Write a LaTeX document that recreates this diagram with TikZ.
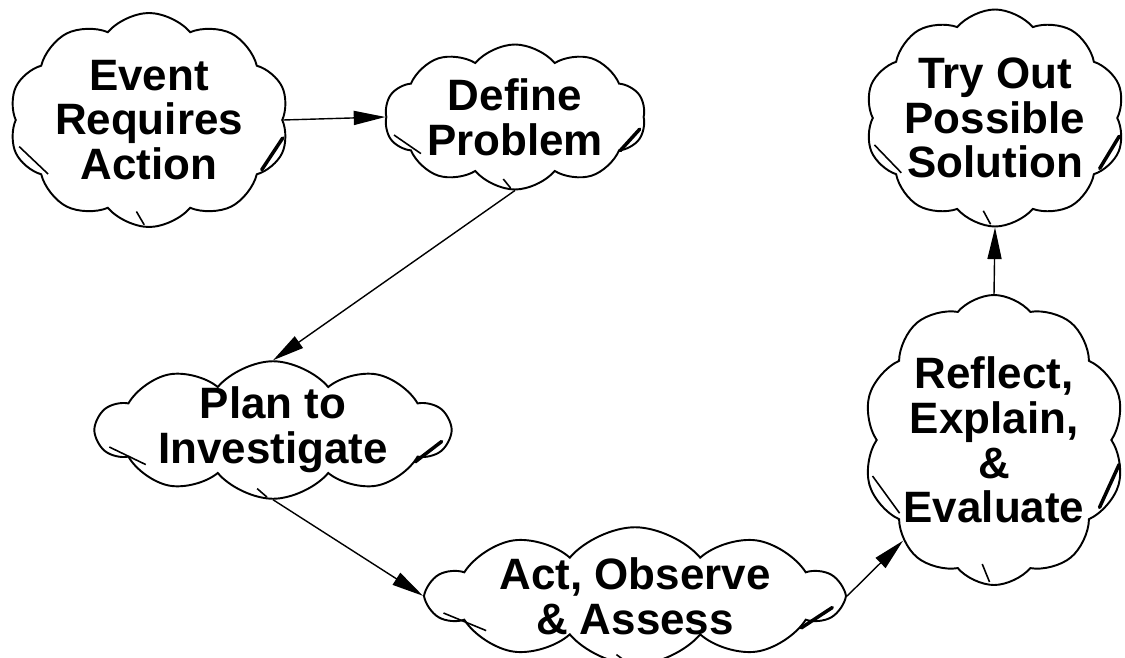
\documentclass[tikz,border=0pt]{standalone}
\usepackage{fontspec}
\setmainfont{Liberation Sans}
\usepackage{tikz}
\usetikzlibrary{
    shapes.symbols,
    arrows.meta,
    calc
}

\tikzset{
    idea/.style={cloud, draw, line width=1.1pt, cloud puffs=10, cloud puff arc=100,
        cloud ignores aspect, inner xsep=-1cm, inner ysep=-1.2cm, align=center,
        font=\fontsize{25}{25.5}\selectfont\bfseries},
    flow/.style={-{Triangle[length=18pt,width=8pt]}, line width=0.8pt}
}

% overlap strokes inside a cloud: name, half width, half height
\newcommand{\puffmarks}[3]{
    \draw[line width=0.9pt] ($(#1.center)+({0.96*#2*cos(195)},{0.96*#3*sin(195)})$)
        -- ($(#1.center)+({0.88*#2*cos(215)},{0.88*#3*sin(215)})$);
    \draw[line width=2pt, line cap=round] ($(#1.center)+({0.93*#2*cos(330)},{0.93*#3*sin(330)})$)
        -- ($(#1.center)+({0.97*#2*cos(350)},{0.97*#3*sin(350)})$);
    \draw[line width=0.9pt] ($(#1.center)+({0.98*#2*cos(268)},{0.98*#3*sin(268)})$)
        -- ($(#1.center)+({0.86*#2*cos(264)},{0.86*#3*sin(264)})$);
}

\begin{document}
\begin{tikzpicture}
        \useasboundingbox (0, 0) rectangle (22.5, -13.14);
        % the six stages
        \node[idea, minimum width=5.6cm, minimum height=4.28cm] (event) at (2.98, -2.4) {Event\\Requires\\Action};
        \node[idea, minimum width=5.22cm, minimum height=2.9cm] (define) at (10.3, -2.34) {Define\\Problem};
        \node[idea, minimum width=7.06cm, minimum height=2.75cm] (plan) at (5.46, -8.6) {Plan to\\Investigate};
        \node[idea, minimum width=8.26cm, minimum height=2.75cm] (act) at (12.7, -11.92) {Act, Observe\\\& Assess};
        \node[idea, minimum width=5.24cm, minimum height=5.8cm] (reflect) at (19.88, -8.8) {Reflect,\\Explain,\\\&\\Evaluate};
        \node[idea, minimum width=5.2cm, minimum height=4.34cm] (try) at (19.9, -2.36) {Try Out\\Possible\\Solution};
        \puffmarks{event}{2.8}{2.14}
        \puffmarks{define}{2.61}{1.45}
        \puffmarks{plan}{3.53}{1.37}
        \puffmarks{act}{4.13}{1.37}
        \puffmarks{reflect}{2.62}{2.9}
        \puffmarks{try}{2.6}{2.17}
        % arrows between stages
        \draw[flow] (event.east) -- (define.west);
        \draw[flow] (define.south) -- (plan.north);
        \draw[flow] (plan.south) -- (act.west);
        \draw[flow] (act.east) -- (reflect.south west);
        \draw[flow] (reflect.north) -- (try.south);
\end{tikzpicture}
\end{document}
